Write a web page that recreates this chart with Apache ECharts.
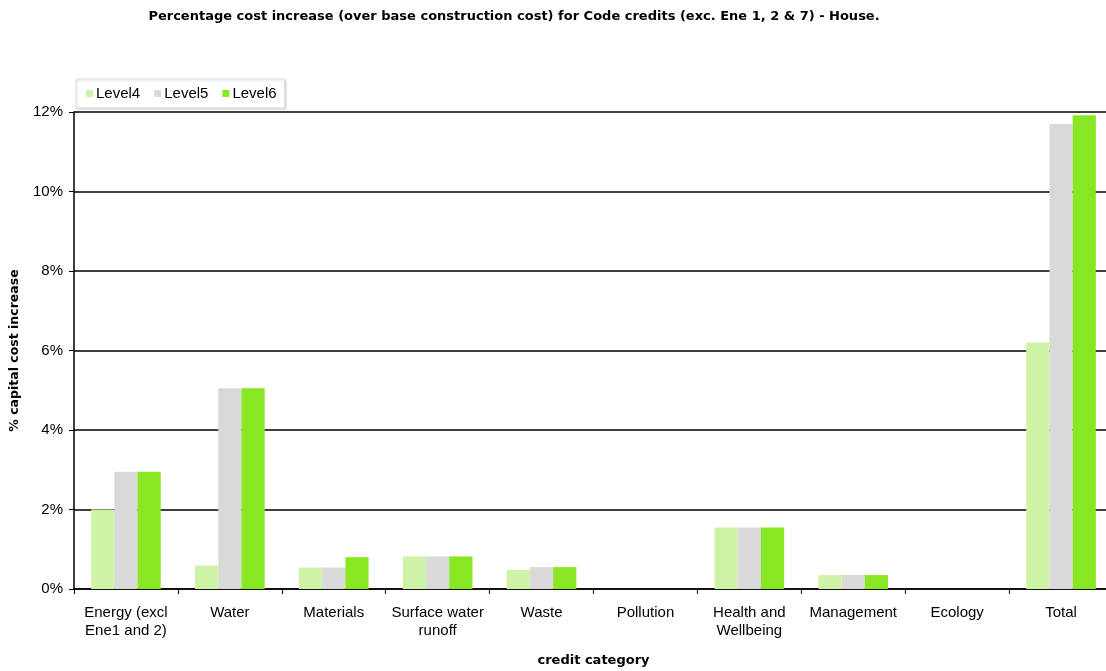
<!DOCTYPE html>
<html>
<head>
<meta charset="utf-8">
<script src="https://cdn.jsdelivr.net/npm/echarts@6/dist/echarts.min.js"></script>
<style>html,body{margin:0;padding:0;background:#fff;}#c{width:1106px;height:671px;}</style>
</head>
<body>
<div id="c"></div>
<script>
const categories = ['Energy (excl\nEne1 and 2)', 'Water', 'Materials', 'Surface water\nrunoff', 'Waste', 'Pollution', 'Health and\nWellbeing', 'Management', 'Ecology', 'Total'];
const level4 = [2.0, 0.59, 0.54, 0.82, 0.48, 0, 1.55, 0.35, 0, 6.2];
const level5 = [2.95, 5.05, 0.54, 0.82, 0.55, 0, 1.55, 0.35, 0, 11.7];
const level6 = [2.95, 5.05, 0.8, 0.82, 0.55, 0, 1.55, 0.35, 0, 11.92];
const yTicks = [0, 2, 4, 6, 8, 10, 12];

const font = 'Liberation Sans, Arial, sans-serif';
const boldFont = 'DejaVu Sans, sans-serif';
const chart = echarts.init(document.getElementById('c'));
const mk = (name, data, color) => ({
  name, type: 'bar', data: data.map(v => v / 100), barGap: '0%', barCategoryGap: '33%',
  itemStyle: { color }, emphasis: { disabled: true }
});
chart.setOption({
  animation: false,
  title: {
    text: 'Percentage cost increase (over base construction cost) for Code credits (exc. Ene 1, 2 & 7) - House.',
    left: 509, textAlign: 'center', top: 5,
    textStyle: { fontFamily: boldFont, fontSize: 13, fontWeight: 'bold', color: '#000' }
  },
  legend: {
    left: 76, top: 79, padding: [7, 8, 7, 10],
    backgroundColor: '#fff', borderColor: '#ddd', borderWidth: 1,
    shadowColor: 'rgba(0,0,0,0.15)', shadowBlur: 2, shadowOffsetX: 1, shadowOffsetY: 1,
    itemWidth: 7, itemHeight: 7, itemGap: 14, icon: 'rect',
    textStyle: { fontFamily: font, fontSize: 15, color: '#000', padding: [0, 0, 0, -2] },
    data: ['Level4', 'Level5', 'Level6']
  },
  grid: { left: 74, right: -7, top: 112, bottom: 82, outerBoundsMode: 'none', containLabel: false },
  xAxis: {
    type: 'category', data: categories,
    name: 'credit category', nameLocation: 'middle', nameGap: 65,
    nameTextStyle: { fontFamily: boldFont, fontSize: 13, fontWeight: 'bold', color: '#000' },
    axisLine: { lineStyle: { color: '#000', width: 1.5 } },
    axisTick: { show: true, length: 5, lineStyle: { color: '#000' } },
    axisLabel: { interval: 0, fontFamily: font, fontSize: 15, color: '#000', lineHeight: 18, margin: 15 },
    splitLine: { show: false }
  },
  yAxis: {
    type: 'value', min: 0, max: 0.12, interval: 0.02,
    name: '% capital cost increase', nameLocation: 'middle', nameGap: 53, nameRotate: 90,
    nameTextStyle: { fontFamily: boldFont, fontSize: 12.5, fontWeight: 'bold', color: '#000' },
    axisLine: { show: true, lineStyle: { color: '#000', width: 1.5 } },
    axisTick: { show: true, length: 5, lineStyle: { color: '#000' } },
    axisLabel: {
      fontFamily: font, fontSize: 15, color: '#000', margin: 11,
      formatter: v => yTicks.includes(Math.round(v * 100)) ? Math.round(v * 100) + '%' : ''
    },
    splitLine: { show: true, lineStyle: { color: '#000', width: 1.5 } }
  },
  series: [
    mk('Level4', level4, '#cff3a6'),
    mk('Level5', level5, '#d9d9d9'),
    mk('Level6', level6, '#88e622')
  ]
});
</script>
</body>
</html>
